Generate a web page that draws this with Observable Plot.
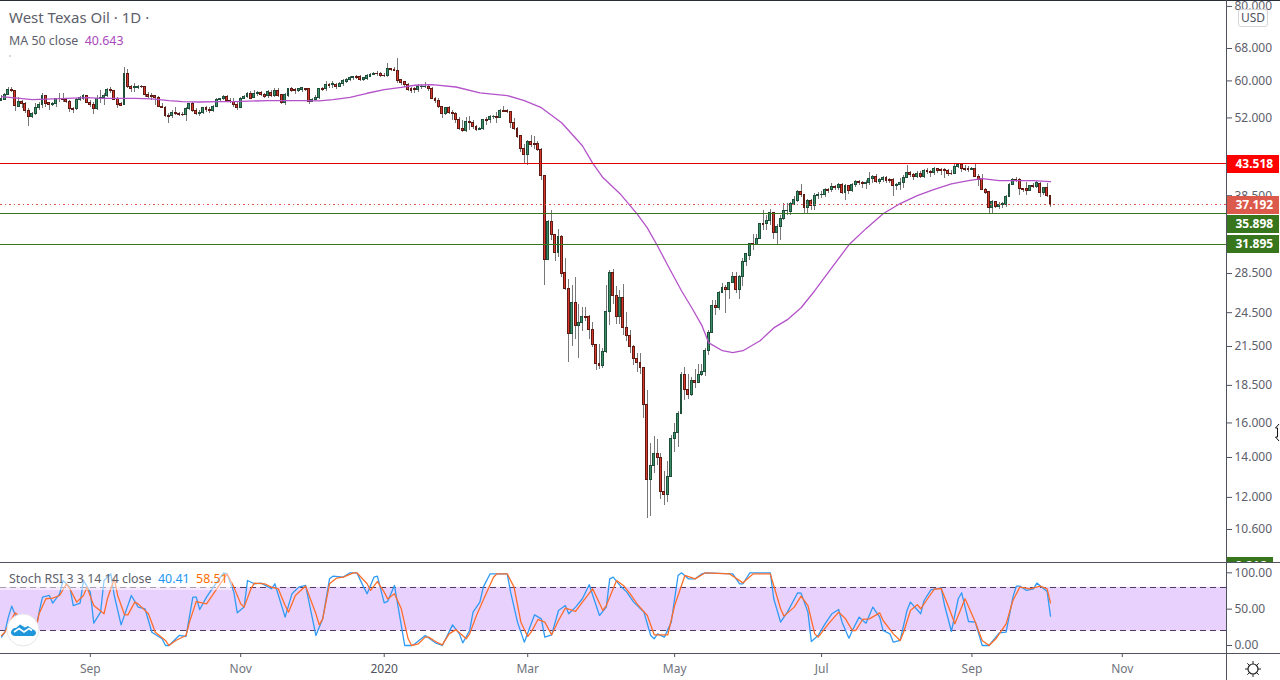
<!DOCTYPE html>
<html><head><meta charset="utf-8">
<script src="https://cdn.jsdelivr.net/npm/d3@7"></script>
<script src="https://cdn.jsdelivr.net/npm/@observablehq/plot@0.6"></script>
<style>
html,body{margin:0;padding:0;background:#fff;overflow:hidden}
#wrap{position:relative;width:1280px;height:680px;font-family:"Noto Sans",sans-serif;overflow:hidden}
#wrap svg{display:block}
.line{position:absolute;background:#50535e}
.leg{position:absolute;white-space:pre;color:#5d606b;line-height:1}
</style></head><body><div id="wrap"></div>
<script>
const opens=[
55.6,55.8,56.8,58.0,57.6,54.2,55.2,54.9,53.5,52.2,
52.7,54.05,54.7,56.55,55.05,54.7,54.9,55.9,56.0,55.75,
55.3,53.9,53.8,55.75,55.9,56.55,55.1,54.7,53.85,55.9,
56.15,56.6,57.95,57.75,55.95,54.9,54.6,61.55,58.65,58.3,
58.45,58.65,58.65,56.8,56.6,56.6,56.15,54.2,54.05,52.35,
52.3,53.0,52.8,52.6,52.5,53.8,54.9,53.5,52.75,53.0,
54.0,53.65,53.35,54.25,55.75,55.85,56.4,55.6,55.3,54.7,
54.0,55.95,56.3,57.1,56.15,57.1,57.25,56.8,56.55,57.25,
56.65,57.8,56.8,55.05,56.65,58.2,57.9,57.65,57.9,58.2,
58.2,55.4,55.75,56.15,58.25,58.1,59.1,58.95,59.1,58.6,
59.2,59.75,60.1,60.6,61.0,61.0,60.3,60.4,61.0,61.5,
61.7,61.6,61.25,61.1,62.7,62.65,62.4,60.1,59.7,59.0,
58.25,58.2,58.0,58.6,58.6,58.7,58.25,56.0,55.55,54.15,
52.85,53.95,53.05,52.85,51.6,49.75,49.4,51.25,51.05,50.3,
49.6,49.75,51.6,51.5,52.1,52.25,52.0,53.5,53.4,53.2,
51.0,49.8,48.4,46.05,45.05,47.4,47.0,47.0,45.95,41.55,
30.05,34.8,33.1,30.9,32.85,28.55,26.85,22.55,25.45,23.3,
23.55,24.1,24.1,22.9,21.65,20.1,19.95,21.05,24.55,28.55,
26.1,24.05,25.95,23.1,22.4,21.45,20.45,20.2,19.75,17.15,
12.85,13.55,14.2,13.95,12.25,12.1,13.0,15.05,15.4,16.55,
19.25,18.2,17.8,18.8,18.7,19.25,19.45,21.1,22.65,25.15,
24.95,26.45,26.95,26.75,27.5,28.15,26.75,28.15,29.8,30.55,
31.9,31.8,32.6,34.5,34.45,34.9,35.95,33.3,34.05,35.2,
36.25,36.2,37.2,37.75,39.1,38.6,36.65,37.7,37.0,38.45,
38.55,38.55,39.4,39.4,39.8,39.7,40.1,38.9,40.0,39.2,
40.05,40.6,40.45,40.3,40.4,41.1,41.4,40.6,40.95,41.25,
40.9,40.9,39.95,40.15,40.45,41.25,42.05,41.7,41.4,41.9,
41.35,42.3,42.2,42.05,42.7,42.55,42.55,42.35,41.95,41.95,
43.1,43.3,42.7,42.65,42.55,42.7,41.45,41.1,39.35,39.0,
36.65,37.6,36.8,37.2,37.1,38.3,40.1,40.9,40.9,39.5,
39.5,39.25,39.95,39.8,40.3,38.9,39.65,38.45];
const closes=[
55.95,56.8,58.0,57.65,54.35,55.25,54.9,53.35,52.2,52.8,
54.05,54.75,56.6,54.9,54.7,54.9,55.95,56.0,55.75,55.4,
53.8,53.7,55.8,56.15,56.6,55.1,54.7,53.85,56.0,56.1,
56.65,57.95,57.7,55.8,54.75,54.55,61.55,58.6,58.15,58.65,
58.65,58.5,56.8,56.45,56.3,56.15,54.2,54.05,52.3,52.15,
52.95,52.75,52.6,52.5,53.85,54.9,53.45,52.8,53.0,54.0,
53.55,53.5,54.2,55.75,55.9,56.3,55.45,55.3,54.7,53.95,
55.95,56.4,57.1,56.0,57.1,57.25,56.8,56.45,57.45,56.65,
57.8,56.65,55.05,56.8,58.2,57.7,57.65,58.2,58.3,57.9,
55.4,55.75,56.15,58.2,58.0,59.15,58.85,59.25,58.6,59.25,
59.95,60.1,60.65,60.8,60.65,60.3,60.65,61.1,61.4,61.6,
61.55,61.1,61.05,62.7,62.6,62.4,59.95,59.6,58.95,57.95,
57.8,58.0,58.7,58.7,58.7,58.15,56.0,55.55,54.15,52.85,
53.95,53.05,52.85,51.6,49.75,49.35,51.25,51.05,50.3,49.6,
49.8,51.6,51.4,52.15,52.25,52.0,53.4,53.3,53.3,50.95,
49.75,48.25,46.05,45.05,47.4,46.75,46.85,45.95,41.55,30.05,
34.8,33.05,30.9,32.85,28.5,26.8,22.55,25.45,23.3,23.55,
24.1,24.0,22.9,21.6,20.1,19.95,21.05,24.55,28.55,26.1,
24.05,25.95,23.05,22.4,21.45,20.45,20.2,19.75,17.15,12.85,
13.55,14.2,13.95,12.25,12.1,13.0,15.05,15.4,16.55,19.25,
18.2,17.8,18.8,18.7,19.25,19.45,21.1,22.65,25.15,24.95,
26.45,26.95,26.75,27.5,28.15,26.75,28.15,29.8,30.7,31.9,
31.8,32.6,34.5,34.4,34.95,35.95,33.3,34.05,35.2,36.25,
36.35,37.3,37.9,39.1,38.55,36.65,37.7,37.0,38.45,38.6,
38.65,39.35,39.25,39.8,39.7,40.1,38.9,40.0,39.15,40.15,
40.6,40.4,40.3,40.5,41.1,41.45,40.6,40.9,41.25,40.7,
40.75,39.9,40.15,40.45,41.25,42.05,41.7,41.4,41.9,41.35,
42.3,42.15,42.05,42.7,42.3,42.35,42.3,41.8,41.8,43.1,
43.3,42.7,42.6,42.55,42.7,41.35,40.95,39.35,38.85,36.65,
37.6,36.8,37.2,37.3,38.3,40.1,40.9,40.8,39.5,39.35,
39.25,39.95,39.75,40.45,38.9,39.65,38.4,37.19];
const highs=[
56.7,57.1,58.6,58.5,57.9,56.3,55.6,55.25,53.85,53.15,
54.9,55.25,57.2,56.8,55.25,55.25,56.15,57.1,57.1,56.15,
55.6,54.2,55.95,56.45,56.95,56.65,55.6,55.25,56.65,57.8,
57.25,58.3,58.6,57.9,56.3,55.25,63.3,62.75,58.95,59.4,
58.95,58.95,58.8,57.45,57.1,56.8,56.45,54.9,54.35,52.8,
53.5,54.05,53.15,53.15,54.05,55.05,55.25,53.85,53.5,54.2,
54.35,54.2,54.55,55.95,56.15,56.65,56.8,55.95,55.95,55.25,
56.3,56.8,57.45,57.65,57.8,57.65,57.65,57.25,57.8,57.8,
58.2,58.2,56.95,57.1,58.3,58.6,58.2,58.3,58.6,58.3,
58.3,55.95,56.65,58.3,58.6,59.75,59.4,59.75,59.4,59.55,
60.3,60.45,61.0,61.0,61.2,61.2,60.85,61.4,61.7,62.0,
62.15,61.9,61.7,64.15,63.05,63.3,65.45,60.3,59.95,59.4,
58.6,58.6,59.2,59.1,59.6,59.2,58.4,56.3,56.0,54.3,
54.15,54.4,53.5,53.2,52.0,51.5,52.0,52.3,51.5,50.5,
50.15,51.75,52.15,52.5,52.5,53.2,53.65,54.4,53.65,53.4,
51.8,50.15,48.6,46.9,47.6,48.6,48.4,47.45,46.15,41.6,
35.0,36.3,33.2,33.85,33.0,30.15,27.9,27.2,28.1,25.3,
24.95,24.95,24.25,23.6,21.7,21.7,21.35,27.2,28.8,28.9,
27.1,26.7,27.3,24.5,22.9,21.55,20.95,20.9,19.8,18.15,
14.8,15.2,15.0,14.2,13.25,13.8,15.25,15.95,16.75,19.45,
19.85,19.3,19.05,19.7,20.05,20.05,21.35,22.9,25.65,25.65,
26.6,27.45,27.2,27.55,28.65,28.65,28.3,30.15,30.75,32.0,
33.1,33.2,34.6,36.3,35.6,36.55,35.95,34.45,35.6,37.3,
37.3,37.55,38.35,39.25,40.15,38.75,38.0,37.9,38.85,39.0,
39.15,39.65,39.65,40.3,40.05,40.4,40.3,40.15,40.1,40.3,
40.9,40.8,40.7,40.8,42.05,41.6,41.8,41.1,41.45,41.45,
41.1,41.1,40.3,41.1,41.6,43.3,42.3,41.9,42.3,42.3,
42.55,42.7,42.4,43.0,42.85,42.7,42.85,42.55,42.4,43.45,
43.45,43.45,43.3,43.1,43.0,43.45,41.8,41.8,39.65,39.15,
37.8,37.7,37.55,37.55,38.5,40.4,41.1,41.35,41.1,39.65,
40.55,40.1,40.3,40.7,40.55,39.75,40.3,38.5];
const lows=[
55.45,55.75,56.65,57.45,53.3,54.05,53.85,52.8,50.3,51.85,
52.5,53.5,53.85,54.05,53.5,54.35,54.2,55.25,55.25,54.9,
53.15,52.95,53.5,55.4,55.6,54.9,54.2,52.65,53.5,54.9,
54.55,56.3,57.1,55.6,53.85,54.35,54.55,58.25,57.45,57.45,
57.95,58.25,56.3,55.95,55.6,54.55,54.05,53.85,52.05,50.95,
51.85,52.5,52.2,52.2,51.35,53.5,53.15,52.5,52.3,52.65,
53.15,52.95,53.15,54.05,55.45,55.6,55.25,54.9,54.2,53.5,
53.85,55.75,55.95,55.75,55.95,56.45,56.45,56.15,56.15,56.3,
56.3,56.3,54.75,54.55,56.3,57.45,56.95,57.45,57.45,57.65,
54.75,55.25,55.6,55.75,57.65,57.65,58.2,58.2,57.95,58.45,
58.8,59.4,59.75,60.1,60.4,59.95,59.9,60.1,60.7,61.2,
61.1,60.85,60.7,60.85,62.15,62.15,59.4,58.95,58.6,57.65,
57.25,57.2,57.4,58.0,58.25,57.65,55.75,54.9,53.95,51.85,
52.5,52.7,51.5,50.8,49.5,49.2,49.2,49.5,49.8,49.35,
49.5,49.6,50.5,50.95,51.6,50.8,51.8,53.05,52.85,50.0,
49.5,47.95,45.5,43.55,43.3,46.3,45.95,45.7,40.8,27.2,
29.95,32.4,29.9,30.35,28.05,26.7,20.2,21.5,22.05,20.55,
22.8,23.7,22.1,21.4,19.6,19.7,19.75,20.9,23.3,25.3,
23.4,23.45,22.4,21.9,20.95,19.95,19.45,19.3,16.25,11.05,
11.15,13.15,13.55,11.9,11.65,11.75,12.95,14.3,14.55,16.5,
17.45,17.55,17.7,18.3,18.65,19.15,19.15,20.75,22.6,24.25,
24.75,26.35,24.4,25.8,27.4,26.35,25.8,27.1,29.25,30.0,
31.1,31.75,32.55,33.6,33.6,34.3,32.55,31.85,32.4,35.05,
35.6,35.6,37.0,37.5,38.25,35.85,35.85,36.3,36.3,37.9,
38.05,38.3,38.9,39.0,39.35,39.25,38.65,37.8,38.75,39.0,
39.8,40.0,39.65,39.5,40.1,40.3,40.3,40.15,40.55,40.4,
40.4,38.4,39.35,39.25,39.55,41.1,41.25,40.9,41.1,41.1,
41.1,41.8,41.35,41.6,41.9,41.6,41.1,41.45,41.6,41.8,
42.85,42.15,42.3,42.15,42.4,41.25,39.9,39.25,38.65,35.85,
35.85,36.65,36.45,36.65,36.85,38.2,40.0,40.55,38.5,39.0,
38.5,39.15,39.65,39.65,38.2,38.5,38.3,36.85];

const maBars=[0,9,19,25,29,39,44,49,53,58,63,68,78,88,93,97,102,107,112,117,121,126,133,140,148,153,158,164,170,173,176,181,186,189,192,195,199,202,205,207,211,214,217,222,226,230,234,238,243,248,253,258,263,268,273,278,283,287,292,297,302,307];
const maVals=[56.45,55.83,56.1,56.26,56.1,56.1,55.98,55.6,55.4,55.3,55.4,55.4,55.6,55.6,55.55,55.83,56.3,57.2,58.0,58.5,59.0,59.15,58.6,57.3,56.7,55.6,54.1,51.0,46.7,43.66,41.3,38.8,35.9,34.0,31.7,29.4,26.67,24.97,23.3,21.8,21.15,21.0,21.15,21.98,23.1,23.85,24.97,26.67,29.15,31.85,33.9,35.9,37.35,38.5,39.45,40.3,40.8,41.13,40.81,40.81,40.81,40.643];

const kBars=[0,1,2,3,4,6,7,8,10,11,12,14,15,17,18,20,21,23,24,26,27,29,30,32,33,35,38,40,42,44,47,48,49,52,54,56,57,58,60,62,65,66,68,69,71,72,74,76,79,80,83,85,87,89,92,94,96,97,100,102,104,106,107,109,110,112,113,115,118,120,121,124,
127,129,130,132,134,135,137,138,140,141,143,148,149,151,153,156,158,159,161,163,165,166,168,170,172,175,177,178,179,181,183,185,188,190,191,192,194,196,198,199,201,203,205,206,214,216,217,219,225,226,228,230,233,234,236,237,239,241,243,245,246,248,249,251,
253,255,257,258,260,261,263,265,266,269,270,272,275,276,278,280,281,283,285,287,289,292,294,296,297,298,300,302,303,306,307];
const kVals=[11.5,18.3,39,54.1,42.2,36.7,32.1,25.2,20.6,45.9,66.5,68.8,58.3,71.1,89.4,80.3,55,58.3,89.4,73.4,30.7,45.9,89.4,98.6,68.8,28.4,68.8,52.8,50.5,18.3,9.2,0,0,13.8,12.4,66.5,66.5,49.5,66.5,80.3,100,98.6,73.4,45,52.8,89.4,84.9,85.8,78,84.9,39,71.1,80.3,82.6,13.8,36.7,91.7,95.4,94,100,100,80.3,71.1,94,95.4,58.7,60.6,82.6,0,0,2.3,13.8,
3.7,0,9.2,28.4,16,3.7,20.6,45.9,59.7,80.3,98.6,98.6,73.4,32.1,4.6,42.2,36.7,11.5,14.7,48.2,55,43.6,52.8,64.3,83.5,41.3,52.8,91.7,94,82.6,73.4,59.7,45.9,13.8,9.2,16,11.5,32.1,96.3,100,91.7,91.7,98.6,100,98.6,84.9,84.9,100,100,64.3,32.1,45.9,72.5,72,45.9,5.5,13.8,29.8,43.6,49.5,32.1,10.1,20.6,39,
30.7,52.8,39,20.6,16,4.6,6.9,48.2,59.7,43.6,61.9,76.6,79.4,55,19.3,64.3,72.5,33,32.1,0,0,17.4,18.3,66.5,81.7,81.7,75.7,78,85.8,74.4,40.41];

const dBars=[0,1,3,4,6,8,10,11,13,15,17,19,20,22,24,25,27,30,31,33,34,36,37,39,40,43,45,48,49,51,54,55,57,60,62,64,66,68,70,71,73,74,77,79,81,83,84,86,89,92,93,94,96,98,100,103,104,107,108,110,112,113,115,117,119,120,122,124,
125,127,129,131,133,136,137,139,142,144,145,148,150,152,154,155,157,159,161,163,165,168,170,173,176,177,180,182,184,186,189,191,195,197,200,203,206,213,217,220,225,226,228,229,232,234,236,238,239,242,245,247,249,250,
252,254,257,258,261,263,264,266,268,269,271,273,275,277,279,282,285,287,289,291,294,296,298,301,304,306,307];
const dVals=[13.8,18.3,36.7,44.9,36.7,22.9,21.8,43.6,64.3,65.2,68.8,84.9,78,59.7,68.8,80.3,55,43.6,64.3,91.7,68.8,42.2,42.2,59.7,57.3,43.6,18.3,6.9,0,6.9,13.8,32.1,60.5,57.3,71.1,84.9,98.6,80.3,57.3,52.8,78,85.8,84.9,80.3,78,55,45.9,68.8,81.7,43.6,28.4,36.7,84.9,92.6,94,100,100,84.9,75.7,88,73.4,64.1,71.1,50.5,9.2,0,2.3,11.5,
11.5,5.5,0.9,16,21.8,9.2,16,41.3,73.4,94,98.6,98.6,80.3,32.1,12.4,18.3,35.8,32.1,14.7,34.4,51.4,46.8,59.7,78,48.2,55,89.4,82.6,71.1,57.3,41.3,14.7,14.7,55,96.3,91.7,100,98.6,86.2,98.6,98.6,82.6,50.5,40.4,52.8,67.9,55,16,11.5,29.8,45.9,36.7,20.6,20.6,
35.8,36.7,44.9,34.4,16,6.9,18.3,48.2,56,50.5,64.3,77.5,78.4,55,29.8,64.3,32.1,6.9,0,9.2,29.8,61.9,80.3,78,81.7,78,58.51];

const priceTicks=[80,68,60,52,38.5,28.5,24.5,21.5,18.5,16,14,12,10.6];
const stochTicks=[0,50,100];
const stochBand=[20,80];
const monthBars=[26,70,154,197,240,284,328];
const monthLabels=["Sep","Nov","Mar","May","Jul","Sep","Nov"];
const yearBars=[112];
const yearLabels=["2020"];
const levelValues=[43.518,37.192,35.898,31.895];
const levelColors=["#e00000","#e0574a","#38761d","#38761d"];
const tagValues=[43.518,35.898,31.895,37.192,9.216];
const tagColors=["#ff0000","#38761d","#38761d","#dc5a4b","#38761d"];
const tagNudge=[0,10,0,0,0];
const tagRight=[374,374,374,374,372.3];

const bars=closes.map((c,i)=>({i,open:opens[i],high:highs[i],low:lows[i],close:c}));
const up=bars.filter(d=>d.close>=d.open), down=bars.filter(d=>d.close<d.open);
const half=0.28;
const ma=maBars.map((i,k)=>({i,v:maVals[k]}));
const kLine=kBars.map((i,j)=>({i,v:kVals[j]}));
const dLine=dBars.map((i,j)=>({i,v:dVals[j]}));
const xScale={type:"linear",domain:[0,358.5],range:[1,1226]};
const font={fontFamily:'"Noto Sans",sans-serif',fontSize:"12px",color:"#50535e",background:"#fff",overflow:"hidden"};
const axisEnd=358.5;

const main=Plot.plot({
  width:1280,height:562,marginTop:0,marginBottom:0,marginLeft:0,marginRight:54,
  style:font,
  x:{...xScale,axis:null},
  y:{type:"log",domain:[10.6,68],range:[529,48],axis:null},
  marks:[
    Plot.ruleX(bars,{x:"i",y1:"low",y2:"high",stroke:"#787878",strokeWidth:1,shapeRendering:"crispEdges"}),
    Plot.rect(up,{x1:d=>d.i-half,x2:d=>d.i+half,y1:"open",y2:"close",fill:"#3a8f66",stroke:"#1d4f3b",strokeWidth:1,shapeRendering:"crispEdges"}),
    Plot.rect(down,{x1:d=>d.i-half,x2:d=>d.i+half,y1:"open",y2:"close",fill:"#d9392b",stroke:"#5f1a14",strokeWidth:1,shapeRendering:"crispEdges"}),
    Plot.line(ma,{x:"i",y:"v",stroke:"#b452c9",strokeWidth:1.3}),
    ...levelValues.map((v,j)=>Plot.ruleY([v],{dy:j===0?-0.5:0,stroke:levelColors[j],strokeWidth:1,strokeDasharray:j===1?"1.5,3":null,shapeRendering:"crispEdges"})),
    Plot.axisY({anchor:"right",ticks:priceTicks,tickFormat:d=>d.toFixed(3),tickSize:5,tickPadding:3,label:null,stroke:"#50535e",fill:"#5d606b"}),
    ...tagValues.flatMap((v,j)=>[
      Plot.ruleY([v],{x1:axisEnd,x2:tagRight[j],dy:tagNudge[j],stroke:tagColors[j],strokeWidth:18,shapeRendering:"crispEdges"}),
      Plot.text([v],{y:d=>d,x:axisEnd,dx:9,dy:tagNudge[j],text:d=>d.toFixed(3),textAnchor:"start",fill:"#fff",fontWeight:"bold",fontSize:12})
    ])
  ]
});
const stoch=Plot.plot({
  width:1280,height:118,marginTop:0,marginBottom:27,marginLeft:0,marginRight:54,
  style:font,
  x:{...xScale,axis:null},
  y:{domain:[0,100],range:[83,10.3],axis:null},
  marks:[
    Plot.rect([stochBand],{x1:()=>-0.3,x2:()=>axisEnd,y1:d=>d[0],y2:d=>d[1],fill:"#e9d1fd"}),
    Plot.ruleY(stochBand,{stroke:"#4d3b66",strokeWidth:1,strokeDasharray:"6,4",shapeRendering:"crispEdges"}),
    Plot.line(kLine,{x:"i",y:"v",stroke:"#2f9bf4",strokeWidth:1.3}),
    Plot.line(dLine,{x:"i",y:"v",stroke:"#ff6d2a",strokeWidth:1.3}),
    Plot.axisY({anchor:"right",ticks:stochTicks,tickFormat:d=>d.toFixed(2),tickSize:5,tickPadding:3,label:null,stroke:"#50535e",fill:"#5d606b"}),
    Plot.axisX({anchor:"bottom",ticks:monthBars,tickFormat:d=>monthLabels[monthBars.indexOf(d)],tickSize:4,tickPadding:7,label:null,stroke:"#50535e",fill:"#70737c"}),
    Plot.axisX({anchor:"bottom",ticks:yearBars,tickFormat:d=>yearLabels[yearBars.indexOf(d)],tickSize:4,tickPadding:7,label:null,stroke:"#50535e",fill:"#50535e"})
  ]
});
const wrap=document.getElementById("wrap");
wrap.append(main,stoch);
function add(html){wrap.insertAdjacentHTML("beforeend",html);}
add(`<div class="line" style="left:0;top:0;width:1280px;height:1px;background:#2a2e39"></div>
<div class="line" style="left:0;top:562px;width:1280px;height:1px"></div>
<div class="line" style="left:0;top:653px;width:1280px;height:1px"></div>
<div class="line" style="left:1226px;top:0;width:1px;height:680px"></div>
<div class="leg" style="left:9px;top:10px;font-size:15px">West Texas Oil · 1D ·</div>
<div class="leg" style="left:9px;top:35px;font-size:12.4px">MA 50 close  <span style="color:#ab47bc">40.643</span></div>
<div style="position:absolute;left:9px;top:55px;width:2px;height:2px;background:#d8d8d8"></div>
<div style="position:absolute;left:0;top:570px;width:232px;height:20px;background:rgba(255,255,255,.5)"></div>
<div class="leg" style="left:9px;top:573px;font-size:12.4px">Stoch RSI 3 3 14 14 close  <span style="color:#2196f3">40.41</span>  <span style="color:#ff6d00">58.51</span></div>
<div style="position:absolute;left:1238px;top:9px;width:28px;height:16px;border:1px solid #d5d6da;border-radius:3px;background:#fff;color:#50535e;font-size:12px;text-align:center;line-height:16px">USD</div>
<svg style="position:absolute;left:6px;top:613px" width="34" height="34" viewBox="0 0 34 34"><circle cx="17" cy="17" r="16" fill="#fff" stroke="#e6e6ea"/><path d="M5 20c0-3 2-5 5-5l4-3.500 5 3 3-1.500 5 3.500c2 .5 3 2 3 3.500s-1.500 3-3 3H9c-2 0-4-1.500-4-3z" fill="#1e96dc"/><path d="M8 19l5-3.500 5 3.500 5-3.500 3 2" fill="none" stroke="#fff" stroke-width="1.600"/></svg>
<svg style="position:absolute;left:1244px;top:660px" width="18" height="18" viewBox="0 0 18 18"><circle cx="9" cy="9" r="5" fill="none" stroke="#222" stroke-width="1.200"/><path d="M9 1v3M9 14v3M1 9h3M14 9h3M3.300 3.300l2 2M12.700 12.700l2 2M3.300 14.700l2-2M12.700 5.300l2-2" stroke="#222" stroke-width="1"/></svg>
<svg style="position:absolute;left:1274px;top:423px" width="6" height="19" viewBox="0 0 6 19"><path d="M5 1L1.500 5H3.500V14H1.500L5 18" fill="#fff" stroke="#111" stroke-width="1"/></svg>`);
</script></body></html>
